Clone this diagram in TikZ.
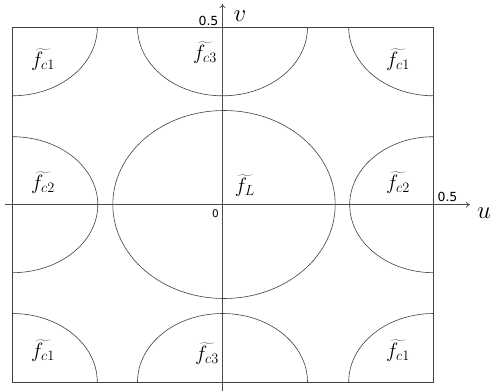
\documentclass[tikz,border=0pt]{standalone}
\usepackage{fontspec}
\newfontfamily\lblfont{DejaVu Sans}
\usetikzlibrary{arrows.meta}
\begin{document}
\begin{tikzpicture}[x=1pt,y=-1pt,
  frame/.style={draw=black!75,line width=0.8pt},
  curve/.style={draw=black!75,line width=0.6pt},
  axis/.style={draw=black!70,line width=0.7pt,-{To[length=4pt,width=6pt]}},
  tick/.style={font=\lblfont\fontsize{12.5}{13}\selectfont,inner sep=0pt},
  axlab/.style={font=\fontsize{29}{31}\selectfont,inner sep=0pt},
  flab/.style={font=\fontsize{20}{22}\selectfont,inner sep=0pt}]
\useasboundingbox (0,0) rectangle (497,391);
% box corners
\coordinate (TL) at (12.3,27.3);
\coordinate (BR) at (433.7,382);
\coordinate (O) at (222.5,204.7);
\begin{scope}
\clip (TL) rectangle (BR);
\foreach \x in {12.3,222.5,433.7}{
  \foreach \y in {27.3,382}{
    \draw[curve] (\x,\y) ellipse [x radius=85,y radius=68.5];
  }
}
\draw[curve] (12.3,204.7) ellipse [x radius=85.5,y radius=68];
\draw[curve] (433.7,204.7) ellipse [x radius=84,y radius=68];
\draw[curve] (224,204.5) ellipse [x radius=111.2,y radius=94];
\end{scope}
\draw[frame] (TL) rectangle (BR);
% axes
\coordinate (xs) at (5,204.7);
\coordinate (xe) at (470,204.7);
\coordinate (ys) at (222.5,391);
\coordinate (ye) at (222.5,4);
\draw[axis] (xs) -- (xe);
\draw[axis] (ys) -- (ye);
% labels
\node[tick] (t1) at (208.5,21) {0.5};
\node[tick] (t2) at (447.5,196.5) {0.5};
\node[tick,font=\lblfont\fontsize{10.5}{11}\selectfont] (t0) at (215.5,213.5) {0};
\node[axlab] (v) at (240,16) {$v$};
\node[axlab] (u) at (484,213) {$u$};
\node[flab] (f1) at (43,60) {$\widetilde{f_{c1}}$};
\node[flab] (f2) at (398,60) {$\widetilde{f_{c1}}$};
\node[flab] (f3) at (43,351) {$\widetilde{f_{c1}}$};
\node[flab] (f4) at (398,351) {$\widetilde{f_{c1}}$};
\node[flab] (f5) at (205,53) {$\widetilde{f_{c3}}$};
\node[flab] (f6) at (207,354) {$\widetilde{f_{c3}}$};
\node[flab] (f7) at (43,183) {$\widetilde{f_{c2}}$};
\node[flab] (f8) at (398,183) {$\widetilde{f_{c2}}$};
\node[flab] (fL) at (245,186) {$\widetilde{f_{L}}$};
\end{tikzpicture}
\end{document}
